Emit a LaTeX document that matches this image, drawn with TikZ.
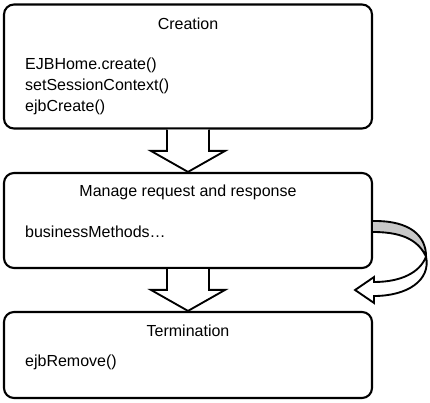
\documentclass[tikz,border=0pt]{standalone}
\usepackage{fontspec}
\setmainfont{Liberation Sans}
\usepackage{xcolor}
\usetikzlibrary{calc}
\definecolor{ribbongray}{RGB}{200,200,200}

\begin{document}
\begin{tikzpicture}[
    x=0.75pt, y=-0.75pt,
    stagebox/.style={rectangle, draw, rounded corners=7.5pt, line width=1.6pt, minimum width=276pt, minimum height=#1, inner sep=0pt},
    title/.style={font=\fontsize{12}{16}\selectfont, inner sep=0pt, anchor=base},
    calls/.style={font=\fontsize{12}{16}\selectfont, inner sep=0pt, align=left, anchor=base west},
    blockarrow/.style={draw, fill=white, line width=1.4pt, line join=miter},
]
    \useasboundingbox (0,0) rectangle (430,403);

    % Life cycle stages
    \node[stagebox=93pt] (create_box) at (188, 66.5) {};
    \node[stagebox=71.25pt] (manage_box) at (188, 220.5) {};
    \node[stagebox=64.5pt] (term_box) at (188, 355) {};

    % base of a multi-line node = its last line
    \node[title] (create_title) at ($(create_box.north)+(0,26)$) {Creation};
    \node[calls] (create_calls) at ($(create_box.north west)+(22,108.5)$) {EJBHome.create()\\setSessionContext()\\ejbCreate()};

    \node[title] (manage_title) at ($(manage_box.north)+(0,25)$) {Manage request and response};
    \node[calls] (manage_calls) at ($(manage_box.north west)+(22,66)$) {businessMethods…};

    \node[title] (term_title) at ($(term_box.north)+(0,26)$) {Termination};
    \node[calls] (term_calls) at ($(term_box.north west)+(22,56)$) {ejbRemove()};

    % Block arrows between stages
    \foreach \a/\b in {create_box/manage_box, manage_box/term_box} {
        \draw[blockarrow] ($(\a.south)+(-21,0)$) -- ($(\b.north)+(-21,-21)$) -- ($(\b.north)+(-37,-21)$)
            -- (\b.north) -- ($(\b.north)+(37,-21)$) -- ($(\b.north)+(21,-21)$) -- ($(\a.south)+(21,0)$);
    }

    % Loop back into the same stage
    \coordinate (loop_out) at (manage_box.east);
    \coordinate (loop_tip) at ($(loop_out)+(-18,69.5)$);
    \coordinate (twist) at ($(loop_out)+(53,36)$);
    \draw[line width=1.4pt, fill=ribbongray, line join=round] ($(loop_out)+(0,0.5)$) .. controls ($(loop_out)+(38,0)$) and ($(loop_out)+(53,16)$) .. (twist)
        .. controls ($(loop_out)+(46,22)$) and ($(loop_out)+(33,11.5)$) .. ($(loop_out)+(0,11.5)$);
    \draw[blockarrow] ($(loop_out)+(1,75.5)$) -- ($(loop_out)+(1,82.5)$) -- (loop_tip) -- ($(loop_out)+(1,56.5)$) -- ($(loop_out)+(1,61.5)$)
        .. controls ($(loop_out)+(28,61.5)$) and ($(loop_out)+(47,52)$) .. (twist)
        .. controls ($(loop_out)+(58,60)$) and ($(loop_out)+(34,75.5)$) .. cycle;
\end{tikzpicture}
\end{document}
